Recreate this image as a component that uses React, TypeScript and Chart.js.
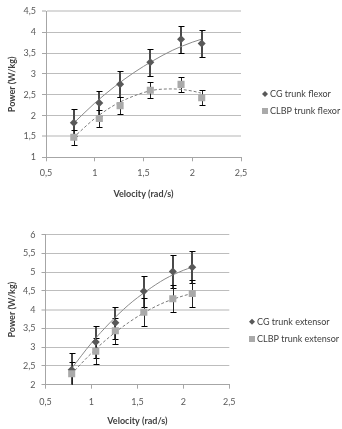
import React, { useEffect, useRef } from 'react';
import { Chart, registerables } from 'chart.js';

Chart.register(...registerables);

// ---------- data ----------
const velocity = [0.785, 1.047, 1.26, 1.57, 1.885, 2.097];
const xTickLabels = ['0,5', '1', '1,5', '2', '2,5'];

// Trunk flexor
const flexLabels = ['CG trunk flexor', 'CLBP trunk flexor'];
const flexCG = [1.83, 2.3, 2.75, 3.28, 3.83, 3.73];
const flexCGErr = [0.33, 0.3, 0.31, 0.33, 0.33, 0.33];
const flexCLBP = [1.48, 1.93, 2.24, 2.61, 2.75, 2.43];
const flexCLBPErr = [0.18, 0.2, 0.2, 0.19, 0.18, 0.18];
const flexYTicks = ['1', '1,5', '2', '2,5', '3', '3,5', '4', '4,5'];

// Trunk extensor
const extLabels = ['CG trunk extensor', 'CLBP trunk extensor'];
const extCG = [2.4, 3.14, 3.65, 4.49, 5.02, 5.13];
const extCGErr = [0.45, 0.43, 0.43, 0.42, 0.45, 0.43];
const extCLBP = [2.29, 2.89, 3.44, 3.93, 4.29, 4.43];
const extCLBPErr = [0.32, 0.35, 0.35, 0.37, 0.36, 0.37];
const extYTicks = ['2', '2,5', '3', '3,5', '4', '4,5', '5', '5,5', '6'];

// Trend lines
const trendX = [0.78, 1.0, 1.2, 1.4, 1.6, 1.8, 2.0, 2.09];
const flexCGTrend = [1.81, 2.3, 2.69, 3.03, 3.32, 3.57, 3.76, 3.83];
const flexCLBPTrend = [1.47, 1.93, 2.25, 2.47, 2.61, 2.64, 2.59, 2.54];
const extCGTrend = [2.42, 3.11, 3.65, 4.12, 4.5, 4.82, 5.05, 5.13];
const extCLBPTrend = [2.28, 2.84, 3.28, 3.65, 3.96, 4.2, 4.37, 4.43];

// ---------- styles ----------
const FONT = 'Lato, "Open Sans", sans-serif';
const CG_COLOR = '#595959';
const CLBP_COLOR = '#aaaaaa';
const TEXT = '#404040';

type Layout = {
  height: number;
  top: number;
  padTop: number;
  padRight: number;
  yAxisWidth: number;
  xAxisHeight: number;
  xTickPad: number;
  xTitlePadBottom: number;
  legendX: number;
  legendY1: number;
  legendY2: number;
};

type PanelProps = {
  layout: Layout;
  labels: string[];
  cg: number[];
  cgErr: number[];
  clbp: number[];
  clbpErr: number[];
  cgTrend: number[];
  clbpTrend: number[];
  yMin: number;
  yMax: number;
  yTicks: string[];
  emphasized: number[];
};

function Panel(p: PanelProps) {
  const ref = useRef<HTMLCanvasElement | null>(null);

  useEffect(() => {
    if (!ref.current) return;
    const L = p.layout;
    const pts = (ys: number[], xs: number[]) => xs.map((x, i) => ({ x, y: ys[i] }));

    const errorBars = {
      id: 'errorBars',
      beforeDatasetsDraw(chart: any) {
        const { ctx, chartArea, scales } = chart;
        const xs = scales.x;
        const ys = scales.y;
        ctx.save();
        ctx.beginPath();
        ctx.rect(chartArea.left, chartArea.top - 2, chartArea.right - chartArea.left, chartArea.bottom - chartArea.top + 2);
        ctx.clip();
        const series = [
          { v: p.cg, e: p.cgErr, stem: '#4a4a4a', w: 2 },
          { v: p.clbp, e: p.clbpErr, stem: '#222222', w: 1 },
        ];
        for (const s of series) {
          s.v.forEach((v, i) => {
            const px = Math.round(xs.getPixelForValue(velocity[i]));
            const yT = Math.round(ys.getPixelForValue(v + s.e[i])) + 0.5;
            const yB = Math.round(ys.getPixelForValue(v - s.e[i])) + 0.5;
            ctx.strokeStyle = s.stem;
            ctx.lineWidth = s.w;
            ctx.beginPath();
            const sx = s.w === 1 ? px + 0.5 : px;
            ctx.moveTo(sx, yT);
            ctx.lineTo(sx, yB);
            ctx.stroke();
            ctx.strokeStyle = '#000000';
            ctx.lineWidth = 1;
            ctx.beginPath();
            ctx.moveTo(px - 2.5, yT);
            ctx.lineTo(px + 3.5, yT);
            ctx.moveTo(px - 2.5, yB);
            ctx.lineTo(px + 3.5, yB);
            ctx.stroke();
          });
        }
        ctx.restore();
      },
    };

    const legend = {
      id: 'customLegend',
      afterDraw(chart: any) {
        const ctx = chart.ctx;
        ctx.save();
        ctx.font = `9px ${FONT}`;
        ctx.fillStyle = TEXT;
        ctx.textBaseline = 'middle';
        ctx.textAlign = 'left';
        // diamond
        const x0 = L.legendX;
        ctx.fillStyle = CG_COLOR;
        ctx.beginPath();
        ctx.moveTo(x0, L.legendY1 - 3);
        ctx.lineTo(x0 + 3, L.legendY1);
        ctx.lineTo(x0, L.legendY1 + 3);
        ctx.lineTo(x0 - 3, L.legendY1);
        ctx.closePath();
        ctx.fill();
        ctx.fillStyle = CLBP_COLOR;
        ctx.fillRect(x0 - 3, L.legendY2 - 3, 6, 6);
        ctx.fillStyle = TEXT;
        ctx.fillText(p.labels[0], x0 + 5, L.legendY1);
        ctx.fillText(p.labels[1], x0 + 5, L.legendY2);
        ctx.restore();
      },
    };

    const chart = new Chart(ref.current, {
      type: 'scatter',
      data: {
        datasets: [
          {
            label: p.labels[1],
            data: pts(p.clbp, velocity),
            pointStyle: 'rect',
            pointRadius: 5,
            pointBackgroundColor: CLBP_COLOR,
            pointBorderColor: CLBP_COLOR,
            pointBorderWidth: 0,
            showLine: false,
            order: 0,
          },
          {
            label: p.labels[0],
            data: pts(p.cg, velocity),
            pointStyle: 'rectRot',
            pointRadius: 4,
            pointBackgroundColor: CG_COLOR,
            pointBorderColor: CG_COLOR,
            pointBorderWidth: 0,
            showLine: false,
            order: 1,
          },
          {
            label: 'trend CLBP',
            data: pts(p.clbpTrend, trendX),
            showLine: true,
            pointRadius: 0,
            borderColor: '#7a7a7a',
            borderWidth: 1,
            borderDash: [3, 2],
            cubicInterpolationMode: 'monotone',
            order: 2,
          },
          {
            label: 'trend CG',
            data: pts(p.cgTrend, trendX),
            showLine: true,
            pointRadius: 0,
            borderColor: '#8a8a8a',
            borderWidth: 1,
            cubicInterpolationMode: 'monotone',
            order: 3,
          },
        ],
      },
      options: {
        responsive: false,
        animation: false,
        events: [],
        layout: { padding: { top: L.padTop, right: L.padRight, left: 0, bottom: 0 } },
        plugins: { legend: { display: false }, tooltip: { enabled: false } },
        scales: {
          x: {
            type: 'linear',
            min: 0.5,
            max: 2.5,
            afterFit: (s: any) => {
              s.height = L.xAxisHeight;
            },
            ticks: {
              stepSize: 0.5,
              padding: L.xTickPad,
              color: '#595959',
              font: { family: FONT, size: 9 },
              maxRotation: 0,
              callback: (_v: any, i: number) => xTickLabels[i],
            },
            grid: { drawOnChartArea: false, drawTicks: true, tickLength: 4, tickColor: '#a6a6a6', tickWidth: 1 },
            border: { display: true, color: '#a6a6a6', width: 1 },
            title: {
              display: true,
              text: 'Velocity (rad/s)',
              color: TEXT,
              font: { family: FONT, size: 9, weight: 'bold' },
              padding: { top: 4, bottom: L.xTitlePadBottom },
            },
          },
          y: {
            type: 'linear',
            min: p.yMin,
            max: p.yMax,
            afterFit: (s: any) => {
              s.width = L.yAxisWidth;
            },
            ticks: {
              stepSize: 0.5,
              padding: 6,
              color: '#595959',
              font: { family: FONT, size: 9 },
              callback: (_v: any, i: number) => p.yTicks[i],
            },
            grid: {
              color: (c: any) => (p.emphasized.includes(c.tick?.value) ? '#dadada' : '#bdbdbd'),
              lineWidth: (c: any) => (p.emphasized.includes(c.tick?.value) ? 2 : 1),
              drawTicks: true,
              tickLength: 4,
              tickColor: '#a6a6a6',
              tickWidth: 1,
            },
            border: { display: true, color: '#a6a6a6', width: 1 },
            title: {
              display: true,
              text: 'Power (W/kg)',
              color: TEXT,
              font: { family: FONT, size: 9, weight: 'bold' },
              padding: { top: 7, bottom: 4 },
            },
          },
        },
      },
      plugins: [errorBars, legend],
    } as any);

    return () => chart.destroy();
  }, []);

  return (
    <canvas
      ref={ref}
      width={342}
      height={p.layout.height}
      style={{ position: 'absolute', left: 0, top: p.layout.top, width: 342, height: p.layout.height }}
    />
  );
}

export default function App() {
  return (
    <div style={{ position: 'absolute', left: 0, top: 0, width: 342, height: 429, background: '#ffffff', overflow: 'hidden' }}>
      <Panel
        layout={{
          height: 205,
          top: 0,
          padTop: 7,
          padRight: 101,
          yAxisWidth: 46,
          xAxisHeight: 47.7,
          xTickPad: 6.5,
          xTitlePadBottom: 6,
          legendX: 265,
          legendY1: 94,
          legendY2: 111,
        }}
        labels={flexLabels}
        cg={flexCG}
        cgErr={flexCGErr}
        clbp={flexCLBP}
        clbpErr={flexCLBPErr}
        cgTrend={flexCGTrend}
        clbpTrend={flexCLBPTrend}
        yMin={1}
        yMax={4.5}
        yTicks={flexYTicks}
        emphasized={[1.5, 4.5]}
      />
      <Panel
        layout={{
          height: 224,
          top: 205,
          padTop: 29.7,
          padRight: 112.7,
          yAxisWidth: 45.5,
          xAxisHeight: 44.3,
          xTickPad: 7.5,
          xTitlePadBottom: 3,
          legendX: 252,
          legendY1: 116.7,
          legendY2: 134,
        }}
        labels={extLabels}
        cg={extCG}
        cgErr={extCGErr}
        clbp={extCLBP}
        clbpErr={extCLBPErr}
        cgTrend={extCGTrend}
        clbpTrend={extCLBPTrend}
        yMin={2}
        yMax={6}
        yTicks={extYTicks}
        emphasized={[4]}
      />
    </div>
  );
}
